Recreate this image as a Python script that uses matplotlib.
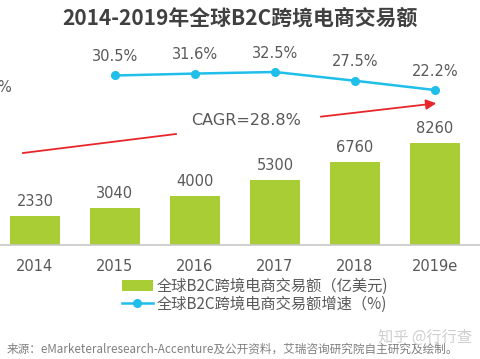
import matplotlib
matplotlib.use("Agg")
import matplotlib.pyplot as plt
from matplotlib.patches import FancyArrowPatch
from matplotlib.lines import Line2D

years = ["2014", "2015", "2016", "2017", "2018", "2019e"]
amount = [2330, 3040, 4000, 5300, 6760, 8260]
growth_years = ["2015", "2016", "2017", "2018", "2019e"]
growth = [30.5, 31.6, 32.5, 27.5, 22.2]
title = "2014-2019年全球B2C跨境电商交易额"
bar_label = "全球B2C跨境电商交易额（亿美元)"
line_label = "全球B2C跨境电商交易额增速（%)"
cagr_text = "CAGR=28.8%"
source = "来源：eMarketeralresearch-Accenture及公开资料，艾瑞咨询研究院自主研究及绘制。"
watermark = "知乎 @行行查"

W, H = 481, 359
DPI = 100
fig = plt.figure(figsize=(W / DPI, H / DPI), dpi=DPI)
CJK = ["Noto Sans CJK SC", "DejaVu Sans"]
LAT = ["DejaVu Sans", "Noto Sans CJK SC"]
GRAY = "#595959"
GREEN = "#a9cd34"
BLUE = "#1fbfea"
RED = "#e8262a"


def px(x, y):
    return (x / W, 1 - y / H)


ax_bottom = 114
ax_h = 215
ax = fig.add_axes([0, ax_bottom / H, 1, ax_h / H])
x = list(range(len(years)))
bars = ax.bar(x, amount, width=50 / 80, color=GREEN, label=bar_label)
ax.set_xlim(-35 / 80, (W - 35) / 80)
ax.set_ylim(0, ax_h / 0.0123)
for xi, v in zip(x, amount):
    ax.annotate(str(v), (xi, v), xytext=(0, 10.5), textcoords="offset points",
                ha="center", va="center", fontsize=10.5, color=GRAY, family=LAT)
for s in ["top", "right", "left"]:
    ax.spines[s].set_visible(False)
ax.spines["bottom"].set_color("#c8c8c8")
ax.spines["bottom"].set_linewidth(1.2)
ax.set_yticks([])
ax.set_xticks(x)
ax.set_xticklabels(years, fontsize=10.5, color=GRAY, family=LAT)
ax.tick_params(axis="x", length=0, pad=10)

ax2 = ax.twinx()
ax2.set_ylim(-66.36, -66.36 + ax_h / 1.75)
ax2.axis("off")
gx = [years.index(g) for g in growth_years]
line, = ax2.plot(gx, growth, color=BLUE, lw=1.8, marker="o", markersize=5.5,
                 label=line_label)
for xi, v in zip(gx, growth):
    ax2.annotate(f"{v}%", (xi, v), xytext=(0, 13.5), textcoords="offset points",
                 ha="center", va="center", fontsize=10.5, color=GRAY, family=LAT)

# partially visible label at left edge
fig.text(*px(11, 88), "%", ha="right", va="center", fontsize=10.5,
         color=GRAY, family=LAT)

# title
fig.text(*px(240, 18), title, ha="center", va="center", fontsize=15,
         fontweight="bold", color="#404040", family=CJK)

# CAGR annotation
fig.add_artist(Line2D([23 / W, 176 / W], [1 - 153 / H, 1 - 134 / H],
                      transform=fig.transFigure, color=RED, lw=1.3))
fig.add_artist(FancyArrowPatch(px(318, 117), px(439, 103),
                               transform=fig.transFigure, color=RED, lw=1.3,
                               arrowstyle="-|>,head_length=6,head_width=3",
                               mutation_scale=1))
fig.text(*px(246, 120), cagr_text, ha="center", va="center", fontsize=11.5,
         color=GRAY, family=LAT)

# legend
leg = fig.legend(handles=[bars, line], labels=[bar_label, line_label],
                 loc="upper left", bbox_to_anchor=px(122, 278),
                 frameon=False, prop={"family": CJK, "size": 11},
                 handlelength=2.0, handletextpad=0.3, labelspacing=0.05,
                 borderaxespad=0, borderpad=0)
for t in leg.get_texts():
    t.set_color(GRAY)

fig.text(*px(7, 349), source, ha="left", va="center", fontsize=8.4,
         color="#7f7f7f", family=CJK)
fig.text(*px(425, 337), watermark, ha="center", va="center", fontsize=11,
         color="#cfcfcf", family=CJK)

fig.savefig("out.png", dpi=DPI)
